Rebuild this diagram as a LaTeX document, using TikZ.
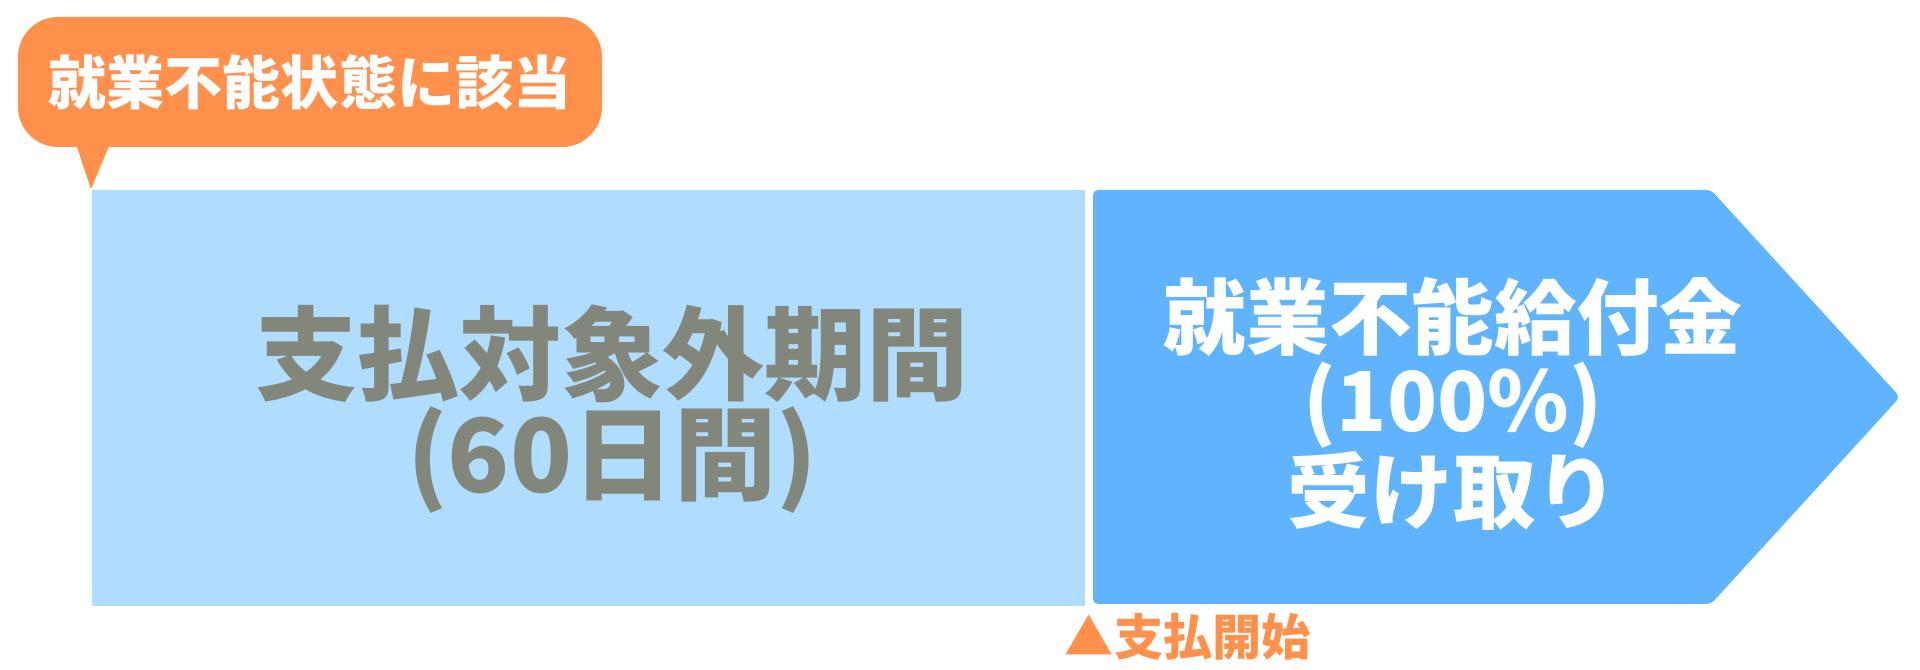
\documentclass[tikz,border=0pt]{standalone}
\usepackage{fontspec}
\newfontfamily\jpfont{Noto Sans CJK JP}
\usetikzlibrary{shapes}
\usetikzlibrary{arrows}

\definecolor{calloutorange}{HTML}{FF914D}
\definecolor{waitblue}{HTML}{B0DCFD}
\definecolor{payblue}{HTML}{60B4FD}
\definecolor{waitgray}{HTML}{83867A}

\begin{document}
\begin{tikzpicture}[x=0.01cm,y=0.01cm]
				\tikzstyle{every node}=[font=\jpfont\bfseries,align=center,inner sep=0pt]
				\tikzstyle{waitbox}=[rectangle,fill=waitblue,minimum width=9.93cm,minimum height=4.16cm]
				\tikzstyle{bigtext}=[font=\jpfont\bfseries\fontsize{29}{26.5}\selectfont,text=waitgray]
				\tikzstyle{paytext}=[font=\jpfont\bfseries\fontsize{23.5}{23.5}\selectfont,text=white]
				\useasboundingbox (0,0) rectangle (1920,670);
				% waiting period
				\node[waitbox] (wait) at (588.5,272) {};
				\node[bigtext] (waitlabel) at (612,261) {支払対象外期間\\(60日間)};
				% payment arrow
				\coordinate (paytop) at (1093,480);
				\coordinate (paytip) at (1900,273);
				\coordinate (paybottom) at (1093,66);
				\fill[payblue,rounded corners=0.05cm] (paytop) -- (1711,480) -- (paytip) -- (1711,66) -- (paybottom) -- cycle;
				\node[paytext] (paylabel) at (1453,266) {就業不能給付金\\(100\%)\\受け取り};
				% callout
				\fill[calloutorange,rounded corners=0.4cm] (18,523) rectangle (602,653);
				\fill[calloutorange] (76,526) -- (110,526) -- (wait.north west) -- cycle;
				\node[font=\jpfont\bfseries\fontsize{16.5}{20}\selectfont,text=white] (callout) at (310,588) {就業不能状態に該当};
				% start of payment
				\node[font=\jpfont\bfseries\fontsize{14}{16}\selectfont,text=calloutorange] (start) at (1188,33) {▲支払開始};
\end{tikzpicture}
\end{document}
